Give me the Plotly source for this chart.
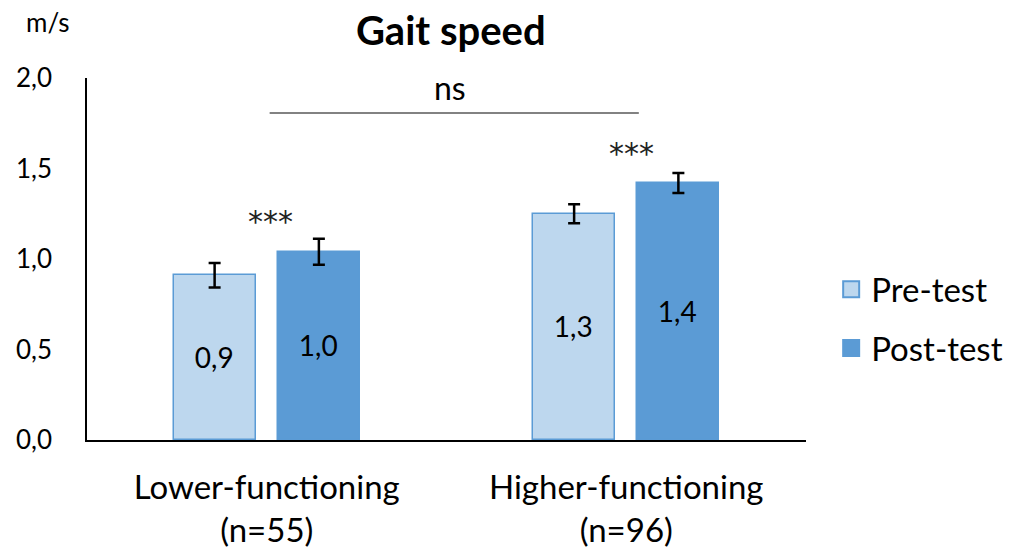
import plotly.graph_objects as go

# ---- data ----
groups = ["Lower-functioning", "Higher-functioning"]
group_n = ["(n=55)", "(n=96)"]
pre_values = [0.91, 1.25]
post_values = [1.04, 1.42]
pre_err = [0.068, 0.052]
post_err = [0.072, 0.055]
series_names = ["Pre-test", "Post-test"]
y_ticks = [0.0, 0.5, 1.0, 1.5, 2.0]
sig_labels = ["***", "***"]

FONT = "Lato"
PRE_FILL = "#BDD7EE"
PRE_LINE = "#5B9BD5"
POST_FILL = "#5B9BD5"

xpos = list(range(len(groups)))
bar_w = 0.228

fig = go.Figure()

fig.add_trace(go.Bar(
    x=xpos, y=pre_values, width=bar_w, offset=-0.259,
    marker=dict(color=PRE_FILL, line=dict(color=PRE_LINE, width=1.5)),
    error_y=dict(type="data", array=pre_err, color="black", thickness=2.5, width=6),
    texttemplate="%{y:.1f}", textposition="inside", insidetextanchor="middle",
    textfont=dict(family=FONT, size=28, color="black"),
    showlegend=False, name=series_names[0],
))
fig.add_trace(go.Bar(
    x=xpos, y=post_values, width=bar_w, offset=0.031,
    marker=dict(color=POST_FILL, line=dict(color=POST_FILL, width=1.5)),
    error_y=dict(type="data", array=post_err, color="black", thickness=2.5, width=6),
    texttemplate="%{y:.1f}", textposition="inside", insidetextanchor="middle",
    textfont=dict(family=FONT, size=28, color="black"),
    showlegend=False, name=series_names[1],
))

# legend proxies
fig.add_trace(go.Scatter(
    x=[None], y=[None], mode="markers", name=series_names[0], legendgroup="a",
    marker=dict(symbol="square", size=21, color=PRE_FILL, line=dict(color=PRE_LINE, width=2)),
))
fig.add_trace(go.Scatter(
    x=[None], y=[None], mode="markers", name=series_names[1], legendgroup="b",
    marker=dict(symbol="square", size=21, color=POST_FILL, line=dict(color=POST_FILL, width=2)),
))

ticktext = [f"{g}<br>{n}" for g, n in zip(groups, group_n)]

fig.update_layout(
    width=1013, height=555,
    margin=dict(l=87, r=207, t=78, b=115, autoexpand=False),
    plot_bgcolor="white", paper_bgcolor="white",
    barmode="overlay",
    separators=",.",
    font=dict(family=FONT, color="black"),
    title=dict(text="<b>Gait speed</b>", x=0.445, xanchor="center", y=0.945, yanchor="middle",
               font=dict(family=FONT, size=40, color="black")),
    xaxis=dict(range=[-0.5, 1.5], tickvals=xpos, ticktext=ticktext, showline=True,
               linecolor="black", linewidth=1.5, ticks="", showgrid=False, zeroline=False,
               tickfont=dict(family=FONT, size=33), ticklabelstandoff=18, automargin=False),
    yaxis=dict(range=[0, 2], tickvals=y_ticks, tickformat=".1f", showline=True,
               linecolor="black", linewidth=1.5, ticks="", showgrid=False, zeroline=False,
               tickfont=dict(family=FONT, size=26), ticklabelstandoff=28, automargin=False),
    legend=dict(x=1.035, y=0.335, xanchor="left", yanchor="middle",
                font=dict(family=FONT, size=33), tracegroupgap=13, traceorder="grouped",
                bgcolor="rgba(0,0,0,0)"),
    bargap=0,
)

# significance annotations (pre vs post within group)
sig_x = [0.01, 1.015]
sig_y = [1.205, 1.585]
for xs, ys, lab in zip(sig_x, sig_y, sig_labels):
    fig.add_annotation(x=xs, y=ys, text=lab, showarrow=False, xref="x", yref="y",
                       font=dict(family="DejaVu Sans", size=30, color="#222222"))
# between-group comparison
fig.add_shape(type="line", x0=0.008, x1=1.035, y0=1.807, y1=1.807, xref="x", yref="y",
              line=dict(color="#595959", width=1.5))
fig.add_annotation(x=0.51, y=1.95, text="ns", showarrow=False, xref="x", yref="y",
                   font=dict(family=FONT, size=32))
# unit label
fig.add_annotation(x=(47 - 87) / (1013 - 87 - 207), y=(440 - 22) / (440 - 78),
                   xref="paper", yref="paper", text="m/s", showarrow=False,
                   xanchor="center", yanchor="middle", font=dict(family=FONT, size=26))

fig.write_html("out.html")
